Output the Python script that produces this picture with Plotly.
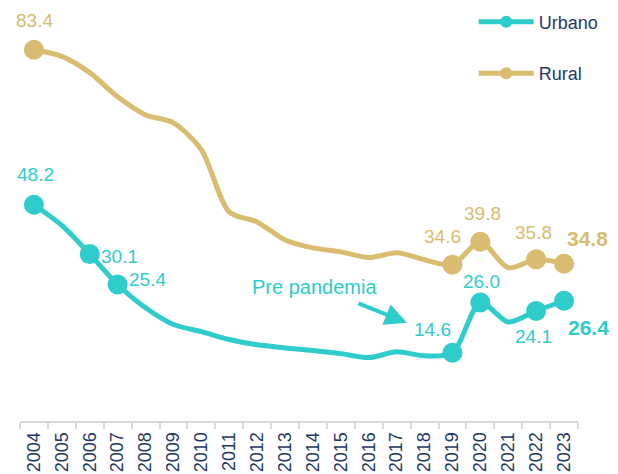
import plotly.graph_objects as go

years = list(range(2004, 2024))

urbano = [48.2, 43.5, 37.0, 30.1, 24.8, 21.0, 19.4, 17.6, 16.4, 15.7,
          15.1, 14.4, 13.5, 14.8, 13.9, 14.6, 26.0, 21.6, 24.1, 26.4]
rural = [83.4, 81.9, 78.2, 72.7, 68.6, 66.8, 60.7, 46.6, 44.3, 40.2,
         38.4, 37.5, 36.2, 37.3, 35.7, 34.6, 39.8, 33.9, 35.8, 34.8]

# labelled points (year -> label text as printed on the chart)
urbano_label_years = [2004, 2006, 2007, 2019, 2020, 2022, 2023]
urbano_label_texts = ["48.2", "30.1", "25.4", "14.6", "26.0", "24.1", "26.4"]
rural_label_years = [2004, 2019, 2020, 2022, 2023]
rural_label_texts = ["83.4", "34.6", "39.8", "35.8", "34.8"]

tick_labels = [str(y) for y in years]
annot_text = "Pre pandemia"

TEAL = "#2ECCCB"
GOLD = "#D9BC6F"
NAVY = "#1F3864"
FONT = "Liberation Sans, Arial, sans-serif"

# label offsets (pixels) - styling only
urb_shift = [(2, -30), (30, 2), (30, -5), (-20, -23), (1, -21), (-3, 26), (24, 27)]
rur_shift = [(1, -29), (-10, -28), (2, -28), (-3, -27), (23, -25)]

def marker_sizes(label_years):
    return [20 if y in label_years else 0 for y in years]

fig = go.Figure()
fig.add_trace(go.Scatter(
    x=years, y=urbano, name="Urbano", mode="lines+markers",
    line=dict(color=TEAL, width=5, shape="spline", smoothing=0.8),
    marker=dict(color=TEAL, size=marker_sizes(urbano_label_years), opacity=1,
                line=dict(width=0)),
    legendgroup="u", cliponaxis=False,
))
fig.add_trace(go.Scatter(
    x=years, y=rural, name="Rural", mode="lines+markers",
    line=dict(color=GOLD, width=5, shape="spline", smoothing=0.8),
    marker=dict(color=GOLD, size=marker_sizes(rural_label_years), opacity=1,
                line=dict(width=0)),
    legendgroup="r", cliponaxis=False,
))

annotations = []
vals_u = dict(zip(years, urbano))
vals_r = dict(zip(years, rural))
for i, (yr, txt) in enumerate(zip(urbano_label_years, urbano_label_texts)):
    bold = yr == 2023
    annotations.append(dict(
        x=yr, y=vals_u[yr], text=f"<b>{txt}</b>" if bold else txt, showarrow=False,
        xshift=urb_shift[i][0], yshift=-urb_shift[i][1],
        font=dict(family=FONT, size=21 if bold else 19, color=TEAL)))
for i, (yr, txt) in enumerate(zip(rural_label_years, rural_label_texts)):
    bold = yr == 2023
    annotations.append(dict(
        x=yr, y=vals_r[yr], text=f"<b>{txt}</b>" if bold else txt, showarrow=False,
        xshift=rur_shift[i][0], yshift=-rur_shift[i][1],
        font=dict(family=FONT, size=21 if bold else 19, color=GOLD)))

annotations.append(dict(
    x=2014.04, y=29.6, xref="x", yref="y", text=annot_text, showarrow=False,
    font=dict(family=FONT, size=20, color=TEAL)))
annotations.append(dict(
    x=2017.37, y=21.4, xref="x", yref="y", text="", showarrow=True,
    ax=-50, ay=-20, arrowhead=2, arrowsize=1.1, arrowwidth=4, arrowcolor=TEAL,
    standoff=0, startstandoff=0))

boundaries = [y - 0.5 for y in years] + [years[-1] + 0.5]

# the page body adds an 8px offset; the figure is sized to fill the rest of the window
fig.update_layout(
    width=610, height=466,
    margin=dict(l=12, r=40, t=12, b=53, autoexpand=False),
    paper_bgcolor="white", plot_bgcolor="white",
    font=dict(family=FONT, color=NAVY),
    showlegend=True,
    legend=dict(x=0.813, y=1.041, xanchor="left", yanchor="top",
                font=dict(size=18, color=NAVY), itemwidth=55,
                itemsizing="constant", tracegroupgap=25,
                bgcolor="rgba(0,0,0,0)"),
    annotations=annotations,
    xaxis=dict(range=[years[0] - 0.5, years[-1] + 0.5],
               showline=True, linecolor="#D9D9D9", linewidth=2,
               tickmode="array", tickvals=years, ticktext=tick_labels,
               ticks="outside", ticklen=2, tickcolor="rgba(0,0,0,0)",
               tickangle=-90, showgrid=False, zeroline=False, automargin=False,
               minor=dict(tickmode="array", tickvals=boundaries, ticks="outside",
                          ticklen=6, tickcolor="#D9D9D9", tickwidth=2, showgrid=False),
               tickfont=dict(family=FONT, size=18, color=NAVY), fixedrange=True),
    yaxis=dict(range=[-0.9, 90.15], visible=False, showgrid=False, zeroline=False),
)

fig.write_html("out.html")
